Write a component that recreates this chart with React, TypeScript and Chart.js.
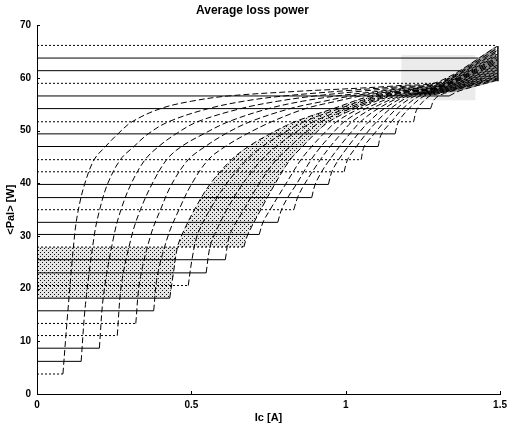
import React, { useEffect, useRef } from 'react';
import { Chart, registerables } from 'chart.js';

Chart.register(...registerables);

const TITLE = 'Average loss power';
const X_TITLE = 'Ic [A]';
const Y_TITLE = '<Pal> [W]';
const X_TICKS = [0, 0.5, 1, 1.5];
const Y_TICKS = [0, 10, 20, 30, 40, 50, 60, 70];

// constant-power levels (W) and the current (A) at which each level line stops
const LEVELS = [3.8, 6.2, 8.7, 11.1, 13.4, 15.8, 18.2, 20.6, 23.0, 25.5, 27.9, 30.3, 32.6, 35.0, 37.3, 39.8, 42.2, 44.5, 47.0, 49.4, 51.7, 54.2, 56.6, 59.0, 61.4, 63.8, 66.2];
const LEVEL_ENDS = [0.084, 0.143, 0.202, 0.26, 0.32, 0.378, 0.43, 0.49, 0.548, 0.61, 0.67, 0.72, 0.78, 0.832, 0.89, 0.944, 0.995, 1.05, 1.105, 1.16, 1.22, 1.275, 1.335, 1.30, 1.37, 1.43, 1.485];

// rising curves [Ic, Pal], one per level
const CURVES: number[][][] = [
  [[0.084, 3.8], [0.099, 15.0], [0.122, 30.3], [0.134, 35.0], [0.154, 39.8], [0.185, 44.5], [0.222, 47.0], [0.262, 49.4], [0.308, 51.7], [0.40, 54.2], [0.50, 55.6], [0.62, 56.6], [0.85, 57.5], [1.05, 58.1], [1.18, 58.6], [1.3, 59.3], [1.49, 66.0]],
  [[0.143, 6.2], [0.157, 17.0], [0.186, 30.3], [0.203, 35.0], [0.228, 39.8], [0.27, 44.5], [0.314, 47.0], [0.36, 49.4], [0.426, 51.7], [0.555, 54.2], [0.68, 55.7], [0.80, 56.6], [1.0, 57.6], [1.18, 58.4], [1.3, 59.1], [1.49, 65.6]],
  [[0.202, 8.7], [0.216, 19.0], [0.25, 30.3], [0.272, 35.0], [0.304, 39.8], [0.35, 44.5], [0.394, 47.0], [0.45, 49.4], [0.52, 51.7], [0.66, 54.2], [0.78, 55.6], [0.90, 56.6], [1.05, 57.5], [1.18, 58.2], [1.3, 58.95], [1.49, 65.2]],
  [[0.26, 11.1], [0.274, 21.0], [0.308, 30.3], [0.335, 35.0], [0.372, 39.8], [0.42, 44.5], [0.468, 47.0], [0.54, 49.4], [0.62, 51.7], [0.75, 54.2], [0.86, 55.6], [0.97, 56.6], [1.08, 57.3], [1.18, 58.0], [1.3, 58.8], [1.49, 64.9]],
  [[0.32, 13.4], [0.333, 21.5], [0.369, 30.3], [0.40, 35.0], [0.436, 39.8], [0.49, 44.5], [0.545, 47.0], [0.61, 49.4], [0.69, 51.7], [0.82, 54.2], [0.93, 55.6], [1.02, 56.6], [1.18, 57.85], [1.3, 58.65], [1.49, 64.5]],
  [[0.378, 15.8], [0.39, 22.5], [0.426, 30.3], [0.46, 35.0], [0.50, 39.8], [0.555, 44.5], [0.61, 47.0], [0.68, 49.4], [0.76, 51.7], [0.87, 54.2], [0.97, 55.6], [1.05, 56.6], [1.18, 57.7], [1.3, 58.5], [1.49, 64.2]],
  [[0.43, 18.2], [0.442, 23.0], [0.455, 27.9], [0.47, 30.3], [0.51, 35.0], [0.56, 39.8], [0.63, 44.5], [0.685, 47.0], [0.755, 49.4], [0.835, 51.7], [0.96, 54.2], [1.08, 56.6], [1.18, 57.55], [1.3, 58.4], [1.49, 63.9]],
  [[0.49, 20.6], [0.502, 25.5], [0.52, 30.3], [0.56, 35.0], [0.612, 39.8], [0.68, 44.5], [0.73, 47.0], [0.795, 49.4], [0.865, 51.7], [0.98, 54.2], [1.10, 56.6], [1.19, 57.5], [1.3, 58.3], [1.49, 63.6]],
  [[0.548, 23.0], [0.56, 27.9], [0.575, 30.3], [0.615, 35.0], [0.665, 39.8], [0.728, 44.5], [0.775, 47.0], [0.83, 49.4], [0.895, 51.7], [1.0, 54.2], [1.115, 56.6], [1.2, 57.45], [1.3, 58.2], [1.49, 63.3]],
  [[0.61, 25.5], [0.625, 30.3], [0.67, 35.0], [0.718, 39.8], [0.775, 44.5], [0.82, 47.0], [0.865, 49.4], [0.92, 51.7], [1.015, 54.2], [1.13, 56.6], [1.2, 57.35], [1.3, 58.1], [1.49, 63.0]],
  [[0.67, 27.9], [0.683, 30.3], [0.725, 35.0], [0.77, 39.8], [0.82, 44.5], [0.86, 47.0], [0.90, 49.4], [0.945, 51.7], [1.03, 54.2], [1.14, 56.6], [1.21, 57.3], [1.3, 58.0], [1.49, 62.7]],
  [[0.72, 30.3], [0.732, 32.6], [0.755, 35.0], [0.805, 39.8], [0.855, 44.5], [0.89, 47.0], [0.928, 49.4], [0.97, 51.7], [1.045, 54.2], [1.15, 56.6], [1.3, 57.9], [1.49, 62.4]],
  [[0.78, 32.6], [0.792, 35.0], [0.812, 37.3], [0.84, 39.8], [0.888, 44.5], [0.92, 47.0], [0.956, 49.4], [0.995, 51.7], [1.065, 54.2], [1.165, 56.6], [1.3, 57.8], [1.49, 62.1]],
  [[0.832, 35.0], [0.844, 37.3], [0.866, 39.8], [0.918, 44.5], [0.95, 47.0], [0.985, 49.4], [1.02, 51.7], [1.085, 54.2], [1.18, 56.6], [1.3, 57.7], [1.49, 61.8]],
  [[0.89, 37.3], [0.901, 39.8], [0.922, 42.2], [0.948, 44.5], [0.98, 47.0], [1.013, 49.4], [1.048, 51.7], [1.105, 54.2], [1.19, 56.6], [1.3, 57.6], [1.49, 61.5]],
  [[0.944, 39.8], [0.955, 42.2], [0.977, 44.5], [1.008, 47.0], [1.04, 49.4], [1.075, 51.7], [1.125, 54.2], [1.20, 56.6], [1.3, 57.5], [1.49, 61.2]],
  [[0.995, 42.2], [1.006, 44.5], [1.035, 47.0], [1.066, 49.4], [1.10, 51.7], [1.145, 54.2], [1.212, 56.6], [1.3, 57.4], [1.49, 60.9]],
  [[1.05, 44.5], [1.06, 47.0], [1.092, 49.4], [1.125, 51.7], [1.165, 54.2], [1.225, 56.6], [1.3, 57.3], [1.49, 60.7]],
  [[1.105, 47.0], [1.116, 49.4], [1.148, 51.7], [1.185, 54.2], [1.24, 56.6], [1.3, 57.2], [1.49, 60.4]],
  [[1.16, 49.4], [1.171, 51.7], [1.205, 54.2], [1.255, 56.6], [1.3, 57.1], [1.49, 60.2]],
  [[1.22, 51.7], [1.232, 54.2], [1.272, 56.6], [1.3, 57.0], [1.49, 60.0]],
  [[1.275, 54.2], [1.288, 56.0], [1.32, 57.1], [1.49, 59.8]],
  [[1.335, 56.6], [1.37, 57.6], [1.49, 59.6]],
];

// index of the first and last level / curve of the highlighted band
const BAND_FROM = 6;
const BAND_TO = 10;

// light grey patch and dark wedge near the upper right corner [Ic, Pal]
const GRAY_PATCH = [[1.18, 55.8], [1.42, 55.8], [1.42, 64.4], [1.18, 64.4], [1.18, 55.8]];
const WEDGE = [[1.22, 57.2], [1.31, 59.0], [1.485, 66.0], [1.495, 59.5], [1.35, 57.3], [1.22, 57.2]];
const RIGHT_EDGE = [[1.493, 59.4], [1.493, 66.1]];

// style: which level lines are drawn dashed
const DASHED_LEVELS = [0, 3, 4, 7, 10, 13, 16, 17, 20, 23, 26];

const FONT = "'Liberation Sans', Arial, Helvetica, sans-serif";

const tickMarks = {
  id: 'tickMarks',
  afterDraw(chart: any) {
    const { ctx, chartArea: a, scales } = chart;
    const xs = scales.x;
    const ys = scales.y;
    ctx.save();
    ctx.strokeStyle = '#000';
    ctx.lineWidth = 1;
    ctx.beginPath();
    Y_TICKS.forEach((v) => {
      const py = Math.round(ys.getPixelForValue(v)) + 0.5;
      ctx.moveTo(a.left, py);
      ctx.lineTo(a.left + 3, py);
    });
    X_TICKS.forEach((v) => {
      const px = Math.round(xs.getPixelForValue(v)) + 0.5;
      ctx.moveTo(px, a.bottom);
      ctx.lineTo(px, a.bottom - 3);
    });
    ctx.stroke();
    ctx.restore();
  },
};

export default function App() {
  const ref = useRef<HTMLCanvasElement>(null);

  useEffect(() => {
    const canvas = ref.current!;
    const ctx = canvas.getContext('2d')!;
    const pc = document.createElement('canvas');
    pc.width = 4;
    pc.height = 4;
    const pctx = pc.getContext('2d')!;
    pctx.fillStyle = 'rgba(0,0,0,0.1)';
    pctx.fillRect(0, 0, 4, 4);
    pctx.fillStyle = '#111';
    pctx.fillRect(0, 0, 1, 1);
    pctx.fillRect(2, 2, 1, 1);
    const dots = ctx.createPattern(pc, 'repeat')!;

    const toXY = (a: number[][]) => a.map(([x, y]) => ({ x, y }));
    const base = { pointRadius: 0, pointHoverRadius: 0, borderWidth: 1 };
    const none = 'rgba(0,0,0,0)';
    const datasets: any[] = [];

    datasets.push({ ...base, data: toXY(GRAY_PATCH), fill: 'shape', backgroundColor: 'rgba(0,0,0,0.08)', borderColor: none, tension: 0, order: 30 });

    const cLo = CURVES[BAND_FROM];
    const cHi = CURVES[BAND_TO];
    const yLo = LEVELS[BAND_FROM];
    const yHi = LEVELS[BAND_TO];
    const lower = cLo.filter((p) => p[1] <= yHi);
    const upper = cLo.filter((p) => p[1] >= yHi);
    const back = [...cHi].reverse();
    const bandLow = [[0, yLo], lower[0], ...lower, lower[lower.length - 1], [0, yHi], [0, yHi], [0, yLo]];
    const bandUp = [upper[0], ...upper, upper[upper.length - 1], back[0], ...back, back[back.length - 1], upper[0]];
    [bandLow, bandUp].forEach((poly) =>
      datasets.push({ ...base, data: toXY(poly), fill: 'shape', backgroundColor: dots, borderColor: none, tension: 0.35, order: 20 })
    );

    datasets.push({ ...base, data: toXY(WEDGE), fill: 'shape', backgroundColor: 'rgba(60,60,60,0.55)', borderColor: none, tension: 0, order: 15 });

    LEVELS.forEach((lv, k) =>
      datasets.push({
        ...base,
        data: [{ x: 0, y: lv }, { x: LEVEL_ENDS[k], y: lv }],
        borderColor: '#000',
        borderDash: DASHED_LEVELS.includes(k) ? [2, 2] : [],
        fill: false,
        tension: 0,
        order: 5,
      })
    );

    CURVES.forEach((c) =>
      datasets.push({ ...base, data: toXY(c), borderColor: '#000', borderDash: [6, 3], fill: false, tension: 0.35, order: 4 })
    );

    datasets.push({ ...base, data: toXY(RIGHT_EDGE), borderColor: '#000', borderWidth: 1.5, fill: false, tension: 0, order: 3 });

    const tickFont = { family: FONT, size: 10, weight: 'bold' as const };
    const titleFont = { family: FONT, size: 11, weight: 'bold' as const };

    const chart = new Chart(ctx, {
      type: 'line',
      data: { datasets },
      options: {
        animation: false,
        responsive: true,
        maintainAspectRatio: false,
        events: [],
        layout: { padding: { left: 0, right: 7, top: 0, bottom: 0 } },
        plugins: {
          legend: { display: false },
          tooltip: { enabled: false },
          title: {
            display: true,
            text: TITLE,
            color: '#000',
            font: { family: FONT, size: 12, weight: 'bold' },
            padding: { top: 3, bottom: 8 },
          },
        },
        scales: {
          x: {
            type: 'linear',
            min: 0,
            max: 1.5,
            afterBuildTicks: (s: any) => {
              s.ticks = X_TICKS.map((v) => ({ value: v }));
            },
            ticks: { color: '#000', font: tickFont, padding: 5, maxRotation: 0, autoSkip: false, callback: (v: any) => String(v) },
            grid: { display: false, drawTicks: false },
            border: { display: true, color: '#000', dash: [1, 2] },
            title: { display: true, text: X_TITLE, color: '#000', font: titleFont, padding: { top: 0, bottom: 2 } },
            afterFit: (s: any) => {
              s.height = 33;
            },
          },
          y: {
            type: 'linear',
            min: 0,
            max: 70,
            afterBuildTicks: (s: any) => {
              s.ticks = Y_TICKS.map((v) => ({ value: v }));
            },
            ticks: { color: '#000', font: tickFont, padding: 6, autoSkip: false },
            grid: { display: false, drawTicks: false },
            border: { display: true, color: '#000', dash: [1, 2] },
            title: { display: true, text: Y_TITLE, color: '#000', font: titleFont, padding: { top: 4, bottom: 0 } },
            afterFit: (s: any) => {
              s.width = 37;
            },
          },
        },
      } as any,
      plugins: [tickMarks],
    });

    return () => chart.destroy();
  }, []);

  return (
    <div style={{ position: 'fixed', left: 0, top: 0, width: 512, height: 427, background: '#fff' }}>
      <canvas ref={ref} />
    </div>
  );
}
